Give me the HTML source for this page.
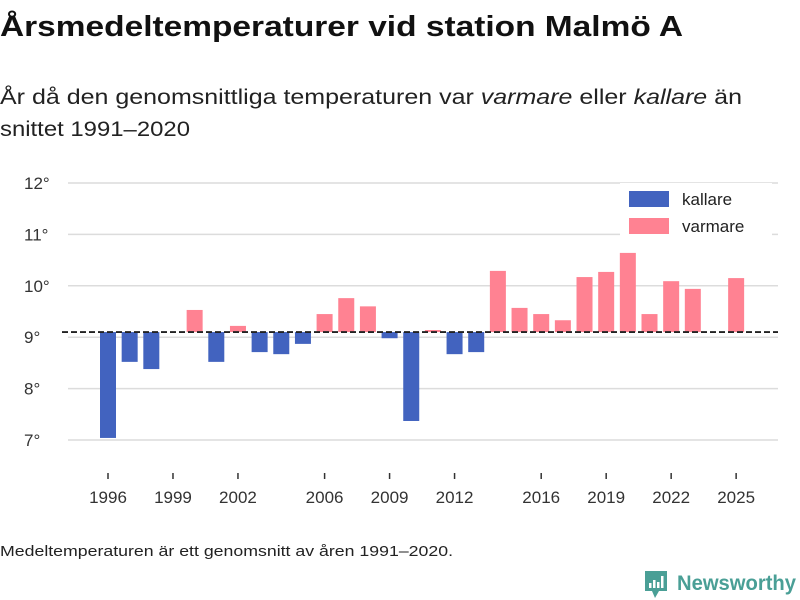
<!DOCTYPE html>
<html><head><meta charset="utf-8"><style>
body{margin:0;background:#fff}
svg{display:block;font-family:"Liberation Sans","DejaVu Sans",sans-serif}
</style></head><body>
<svg id="c" width="800" height="600" viewBox="0 0 800 600">
<text x="0" y="36" font-size="29" font-weight="bold" fill="#111" textLength="683" lengthAdjust="spacingAndGlyphs">Årsmedeltemperaturer vid station Malmö A</text>
<text x="0" y="104" font-size="21" fill="#222" textLength="742" lengthAdjust="spacingAndGlyphs">År då den genomsnittliga temperaturen var <tspan font-style="italic">varmare</tspan> eller <tspan font-style="italic">kallare</tspan> än</text>
<text x="0" y="136" font-size="21" fill="#222" textLength="190" lengthAdjust="spacingAndGlyphs">snittet 1991–2020</text>
<g id="grid"></g><g id="bars"></g><g id="xaxis"></g>
<g>
<rect x="620" y="183" width="152" height="58" fill="#fff"/>
<rect x="629" y="191" width="40" height="16" fill="#4263bf"/>
<text x="682" y="205" font-size="17" fill="#222">kallare</text>
<rect x="629" y="218" width="40" height="16" fill="#ff8292"/>
<text x="682" y="232" font-size="17" fill="#222">varmare</text>
</g>
<text x="0" y="556" font-size="15" fill="#222" textLength="453" lengthAdjust="spacingAndGlyphs">Medeltemperaturen är ett genomsnitt av åren 1991–2020.</text>
<g>
<path d="M645 571h22v20h-8l-4 7-3-7h-7z" fill="#4a9f96"/>
<rect x="649" y="583" width="2.5" height="5" fill="#fff"/><rect x="653" y="580" width="2.5" height="8" fill="#fff"/><rect x="657" y="582" width="2.5" height="6" fill="#fff"/><rect x="661" y="576" width="2.5" height="12" fill="#fff"/>
<text x="677" y="590" font-size="21" font-weight="bold" fill="#4a9f96" textLength="119" lengthAdjust="spacingAndGlyphs">Newsworthy</text>
</g>
</svg>
<script>
const years=[1996,1997,1998,1999,2000,2001,2002,2003,2004,2005,2006,2007,2008,2009,2010,2011,2012,2013,2014,2015,2016,2017,2018,2019,2020,2021,2022,2023,2024,2025];
const temps=[7.04,8.52,8.38,9.1,9.53,8.52,9.22,8.71,8.67,8.87,9.45,9.76,9.6,8.98,7.37,9.14,8.67,8.71,10.29,9.57,9.45,9.33,10.17,10.27,10.64,9.45,10.09,9.94,9.1,10.15];
const baseline=9.1;
const yTicks=[7,8,9,10,11,12];
const xTicks=[1996,1999,2002,2006,2009,2012,2016,2019,2022,2025];
const NS='http://www.w3.org/2000/svg';
const y=v=>440-(v-7)*51.4;
const x=yr=>108+(yr-1996)*21.66;
function mk(t,a,p){const e=document.createElementNS(NS,t);for(const k in a)e.setAttribute(k,a[k]);p.appendChild(e);return e;}
const g=document.getElementById('grid'),b=document.getElementById('bars'),xa=document.getElementById('xaxis');
yTicks.forEach(t=>{
 const l=mk('line',{x1:68,x2:778,y1:y(t),y2:y(t),stroke:'#dcdcdc','stroke-width':1.5},g);
 
 
 const tx=mk('text',{x:24,y:y(t)+6,'font-size':17,fill:'#333'},g);tx.textContent=t+'°';
 
 
});
years.forEach((yr,i)=>{
 const v=temps[i];if(Math.abs(v-baseline)<0.005)return;
 const top=Math.min(y(v),y(baseline)),h=Math.abs(y(v)-y(baseline));
 const r=mk('rect',{x:x(yr)-8,y:top,width:16,height:h,fill:v<baseline?'#4263bf':'#ff8292'},b);
 
 
});
const dl=mk('line',{x1:62,x2:778,y1:y(baseline),y2:y(baseline),stroke:'#222','stroke-width':1.8,'stroke-dasharray':'6,3'},b);


xTicks.forEach(t=>{
 mk('line',{x1:x(t),x2:x(t),y1:473,y2:479,stroke:'#333','stroke-width':1.5},xa);
 const tx=mk('text',{x:x(t),y:503,'font-size':17,fill:'#333','text-anchor':'middle'},xa);tx.textContent=t;
 
 
});
</script>
</body></html>
